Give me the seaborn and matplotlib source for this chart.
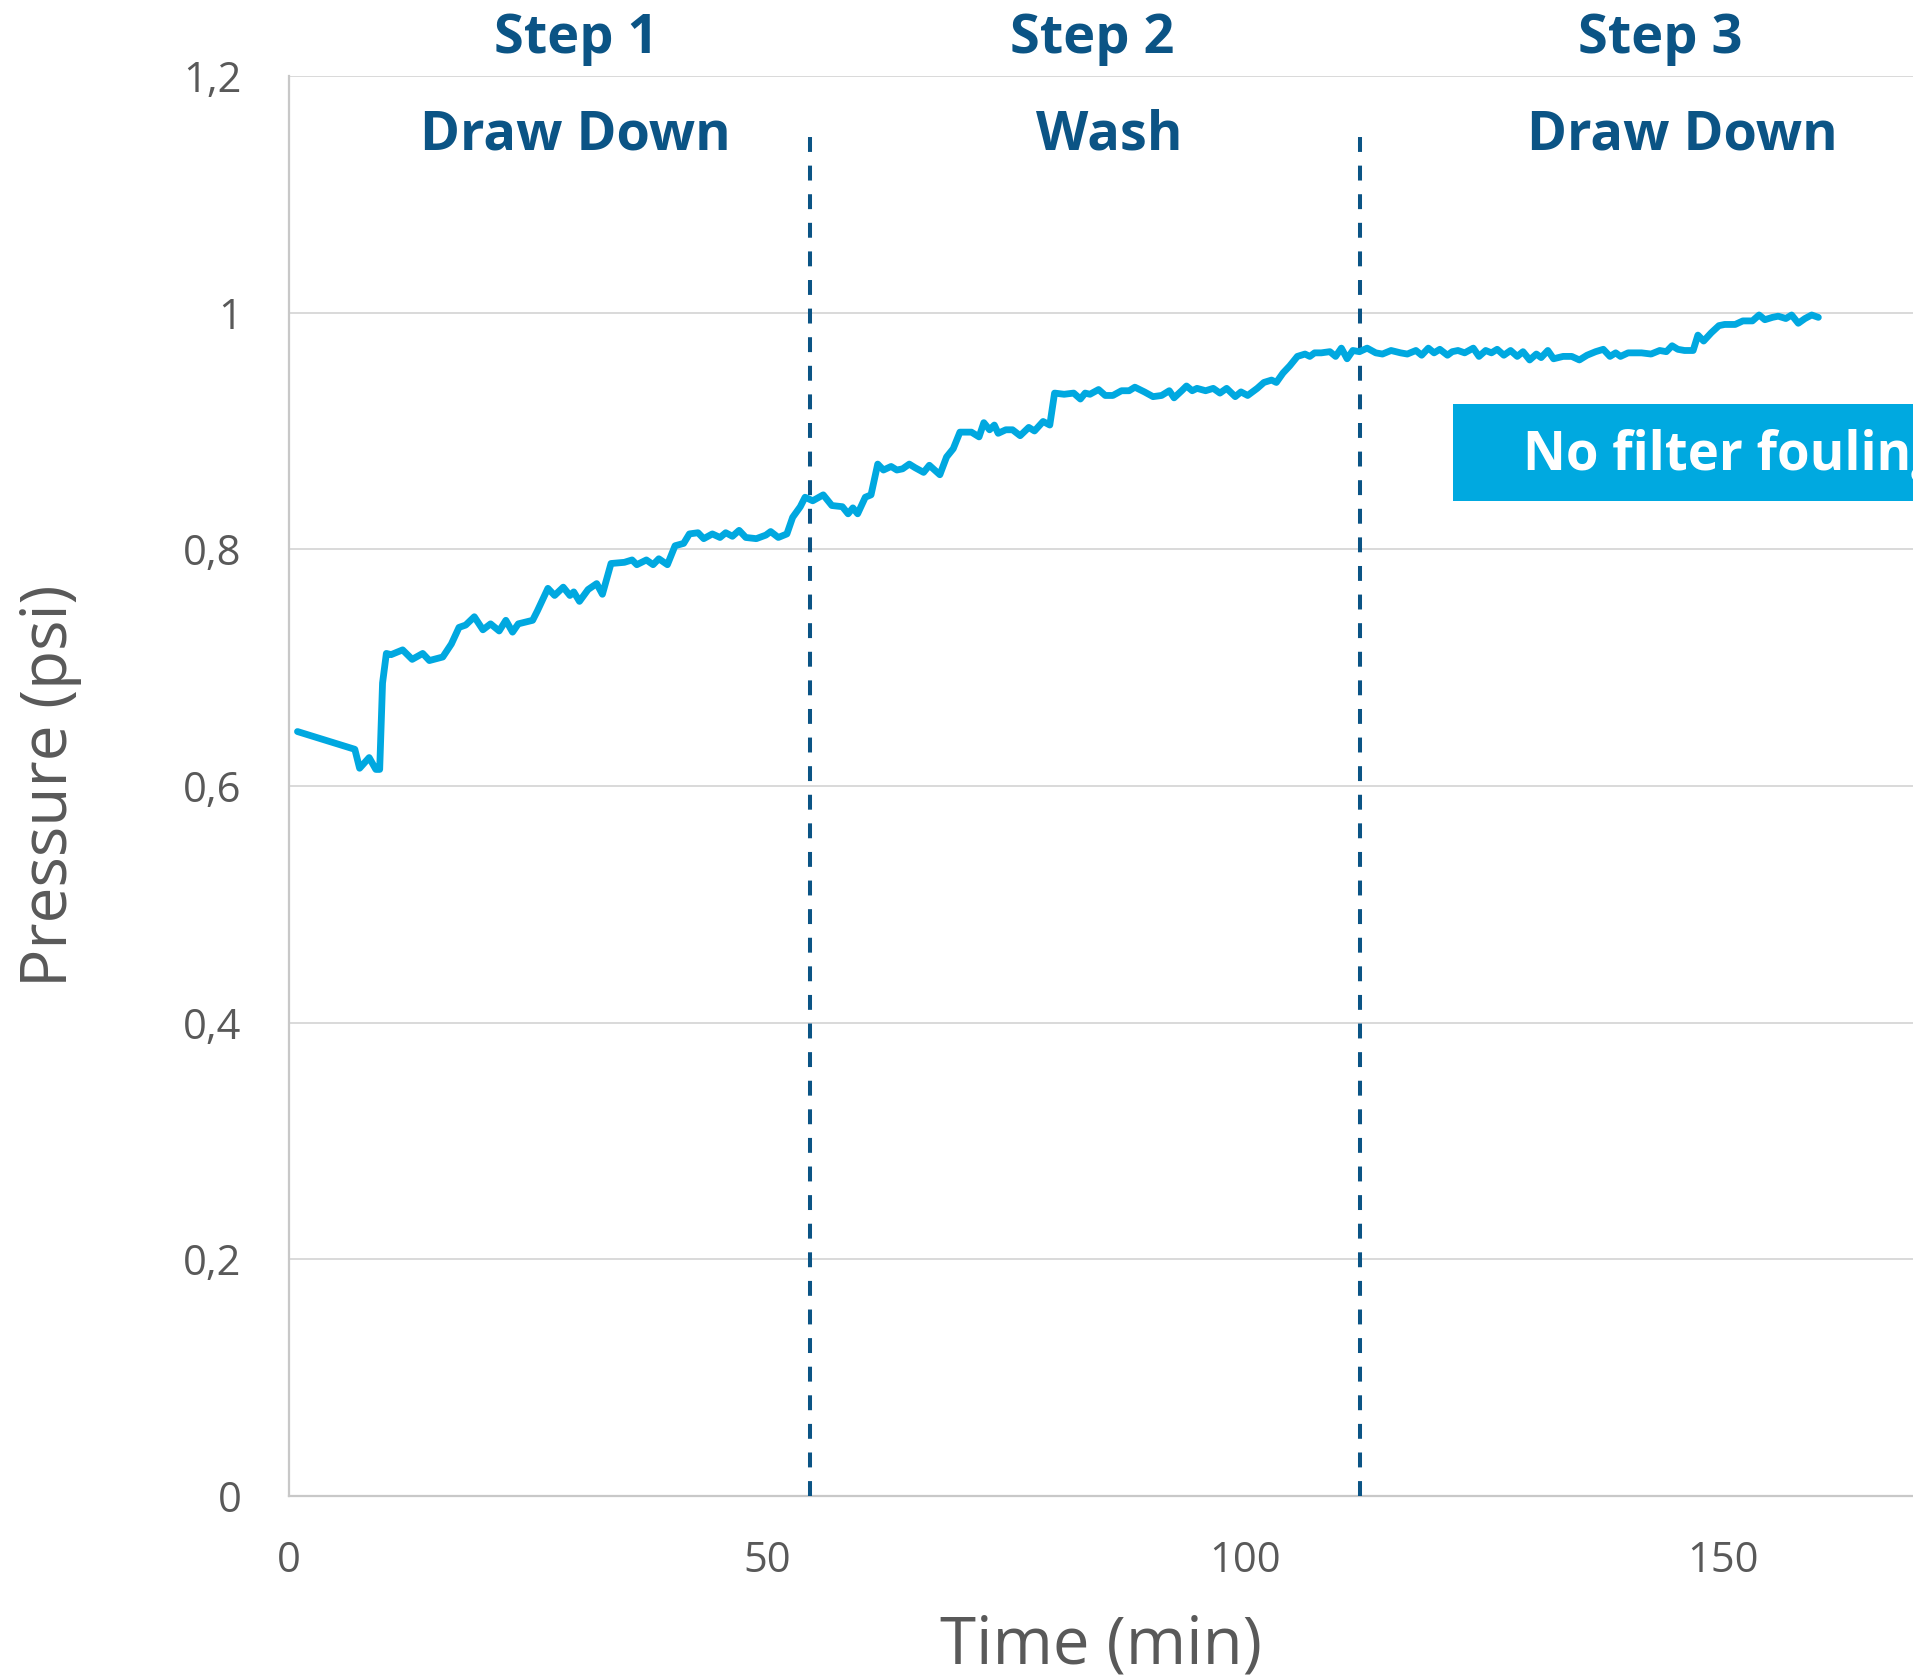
import matplotlib
matplotlib.use("Agg")
import matplotlib.pyplot as plt
from matplotlib.patches import Rectangle
import seaborn as sns
import pandas as pd

# Filter pressure record (minutes, psi)
time_min = [
    0.9, 6.9, 7.4, 8.4, 9.1, 9.5, 9.8, 10.2, 10.7, 11.9, 12.9, 14.0, 14.7, 16.1, 17.0,
    17.8, 18.5, 19.4, 20.3, 21.1, 22.0, 22.7, 23.4, 24.0, 25.5, 26.0, 27.1, 27.8, 28.7,
    29.4, 29.8, 30.4, 31.3, 32.2, 32.8, 33.7, 35.1, 35.9, 36.4, 37.4, 38.1, 38.7, 39.6,
    40.4, 41.3, 41.9, 42.8, 43.4, 44.3, 45.1, 45.7, 46.4, 47.1, 47.8, 48.9, 49.9, 50.4,
    51.2, 52.1, 52.7, 53.5, 54.0, 54.8, 55.9, 56.8, 57.9, 58.5, 59.0, 59.5, 60.3, 60.9,
    61.6, 62.2, 63.0, 63.6, 64.2, 64.9, 65.5, 66.4, 67.0, 68.1, 68.8, 69.5, 70.2, 71.4,
    72.2, 72.7, 73.3, 73.8, 74.2, 75.0, 75.7, 76.5, 77.4, 78.0, 78.9, 79.6, 80.1, 81.1,
    82.1, 82.8, 83.3, 83.8, 84.7, 85.4, 86.2, 87.1, 87.9, 88.5, 89.5, 90.4, 91.3, 92.1,
    92.6, 93.4, 93.9, 94.5, 95.0, 95.9, 96.7, 97.4, 98.1, 99.0, 99.6, 100.3, 101.3, 102.0,
    102.8, 103.3, 104.0, 104.7, 105.5, 106.3, 106.8, 107.3, 108.0, 108.9, 109.5, 110.1,
    110.7, 111.3, 112.0, 112.8, 113.7, 114.4, 115.3, 116.3, 117.0, 117.9, 118.5, 119.2,
    119.8, 120.4, 121.2, 121.7, 122.3, 123.0, 123.9, 124.5, 125.2, 125.8, 126.4, 127.1,
    127.8, 128.5, 129.1, 129.8, 130.5, 131.0, 131.7, 132.3, 133.3, 134.2, 135.0, 135.8,
    136.7, 137.5, 138.2, 138.8, 139.3, 140.1, 141.5, 142.5, 143.4, 144.1, 144.7, 145.3,
    146.0, 146.9, 147.4, 148.0, 148.8, 149.6, 150.2, 151.3, 152.1, 153.1, 153.8, 154.4,
    155.2, 155.8, 156.6, 157.2, 157.9, 158.6, 159.3, 160.0,
]
pressure_psi = [
    0.646, 0.631, 0.615, 0.624, 0.614, 0.614, 0.687, 0.712, 0.711, 0.715, 0.707, 0.712,
    0.706, 0.709, 0.720, 0.734, 0.736, 0.743, 0.732, 0.737, 0.731, 0.740, 0.730, 0.737,
    0.740, 0.748, 0.767, 0.761, 0.768, 0.761, 0.764, 0.756, 0.766, 0.771, 0.762, 0.788,
    0.789, 0.791, 0.787, 0.791, 0.787, 0.792, 0.787, 0.803, 0.805, 0.813, 0.814, 0.809,
    0.813, 0.810, 0.814, 0.811, 0.816, 0.810, 0.809, 0.812, 0.815, 0.810, 0.813, 0.827,
    0.836, 0.844, 0.841, 0.846, 0.837, 0.836, 0.830, 0.835, 0.830, 0.844, 0.846, 0.872,
    0.867, 0.870, 0.867, 0.868, 0.872, 0.869, 0.865, 0.871, 0.863, 0.878, 0.885, 0.899,
    0.899, 0.895, 0.907, 0.901, 0.905, 0.898, 0.901, 0.901, 0.896, 0.903, 0.900, 0.908,
    0.905, 0.932, 0.931, 0.932, 0.927, 0.932, 0.931, 0.935, 0.930, 0.930, 0.934, 0.934,
    0.937, 0.933, 0.929, 0.930, 0.934, 0.928, 0.934, 0.938, 0.934, 0.936, 0.934, 0.936,
    0.932, 0.936, 0.929, 0.933, 0.930, 0.936, 0.941, 0.943, 0.941, 0.949, 0.955, 0.963,
    0.965, 0.963, 0.966, 0.966, 0.967, 0.963, 0.970, 0.961, 0.968, 0.967, 0.970, 0.966,
    0.965, 0.968, 0.966, 0.965, 0.968, 0.964, 0.970, 0.966, 0.969, 0.964, 0.967, 0.968,
    0.966, 0.970, 0.963, 0.968, 0.966, 0.969, 0.964, 0.968, 0.963, 0.967, 0.960, 0.965,
    0.962, 0.968, 0.961, 0.963, 0.963, 0.960, 0.964, 0.967, 0.969, 0.963, 0.966, 0.963,
    0.966, 0.966, 0.965, 0.968, 0.967, 0.972, 0.969, 0.968, 0.968, 0.981, 0.976, 0.983,
    0.989, 0.990, 0.990, 0.993, 0.993, 0.998, 0.994, 0.996, 0.997, 0.995, 0.998, 0.991,
    0.995, 0.998, 0.996,
]

# Process steps
step_titles = ["Step 1", "Step 2", "Step 3"]
step_title_x = [30.0, 84.0, 143.5]
step_names = ["Draw Down", "Wash", "Draw Down"]
step_name_x = [30.0, 85.8, 145.8]
step_boundaries = [54.5, 112.0]

x_ticks = [0, 50, 100, 150]
y_ticks = [0, 0.2, 0.4, 0.6, 0.8, 1.0, 1.2]
y_tick_labels = ["0", "0,2", "0,4", "0,6", "0,8", "1", "1,2"]

note_text = "No filter fouling"

sns.set_theme(style="white")
plt.rcParams["font.family"] = ["Open Sans", "DejaVu Sans"]

LINE_BLUE = "#00A8E0"
DARK_BLUE = "#0B5485"
GREY_TEXT = "#595959"

fig = plt.figure(figsize=(19.13, 16.8), dpi=100)
ax = fig.add_axes([0.151, 0.1095, 0.849, 0.8453])

df = pd.DataFrame({"Time (min)": time_min, "Pressure (psi)": pressure_psi})

# horizontal gridlines
for yv in y_ticks[1:]:
    ax.axhline(yv, color="#D9D9D9", lw=1.4, zorder=0)

for xb in step_boundaries:
    ax.vlines(xb, 0, 1.151, colors=DARK_BLUE, linestyles=(0, (3.7, 3.4)),
              lw=2.9, zorder=3)

sns.lineplot(data=df, x="Time (min)", y="Pressure (psi)", ax=ax,
             color=LINE_BLUE, lw=4.9, zorder=4)

# annotation box
ax.add_patch(Rectangle((121.8, 0.841), 60, 0.082, facecolor="#00A9E0",
                       edgecolor="none", zorder=5))
ax.text(129.1, 0.879, note_text, color="white", fontsize=38, fontweight="bold",
        ha="left", va="center", zorder=6)

for xt, label in zip(step_title_x, step_titles):
    ax.text(xt, 1.231, label, color=DARK_BLUE, fontsize=39, fontweight="bold",
            ha="center", va="center", clip_on=False)
for xt, label in zip(step_name_x, step_names):
    ax.text(xt, 1.150, label, color=DARK_BLUE, fontsize=39, fontweight="bold",
            ha="center", va="center")

ax.set_xlim(0, 169.9)
ax.set_ylim(0, 1.2)
ax.set_xticks(x_ticks)
ax.set_xticklabels([str(v) for v in x_ticks])
ax.set_yticks(y_ticks)
ax.set_yticklabels(y_tick_labels)
ax.tick_params(axis="both", length=0, labelsize=30, labelcolor=GREY_TEXT)
ax.tick_params(axis="y", pad=34)
ax.tick_params(axis="x", pad=32)

ax.set_xlabel("Time (min)", fontsize=47, color=GREY_TEXT, labelpad=22)
ax.set_ylabel("Pressure (psi)", fontsize=46, color=GREY_TEXT, labelpad=73)

for side in ["top", "right"]:
    ax.spines[side].set_visible(False)
ax.spines["left"].set_color("#C8C8C8")
ax.spines["bottom"].set_color("#C8C8C8")
ax.spines["left"].set_linewidth(1.6)
ax.spines["bottom"].set_linewidth(1.6)

fig.savefig("out.png", dpi=100, facecolor="white")
